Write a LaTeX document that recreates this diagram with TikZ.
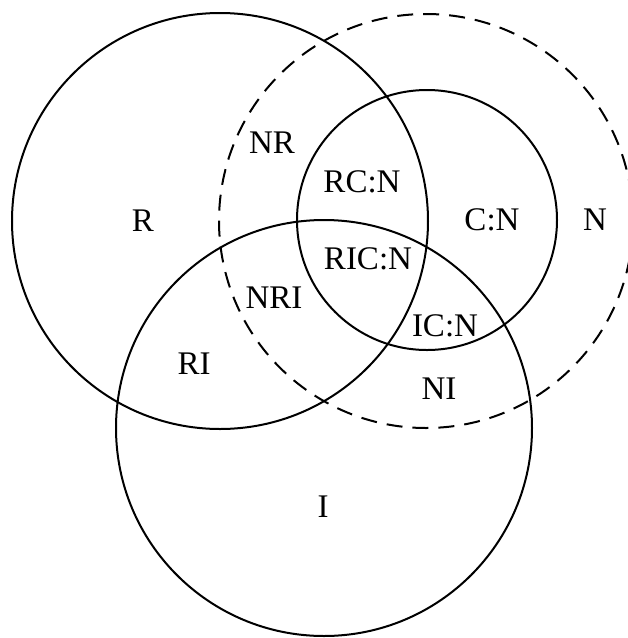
\documentclass[tikz,border=0pt]{standalone}
\usepackage{fontspec}
\setmainfont{Liberation Serif}
\usepackage{tikz}
\usetikzlibrary{positioning}

\begin{document}
\begin{tikzpicture}[
  x=1pt, y=-1pt,
  set/.style={circle, draw, line width=2pt, inner sep=0pt},
  dashedset/.style={set, dash pattern=on 16pt off 10pt},
  lbl/.style={font=\fontsize{33}{39}\selectfont, inner sep=0pt}]
  \useasboundingbox (0,0) rectangle (628,638);
  % the four sets
  \node[set, minimum size=416pt] (R) at (220,221) {};
  \node[dashedset, minimum size=414pt] (N) at (426,221) {};
  \node[set, minimum size=260pt] (C) at (427,220) {};
  \node[set, minimum size=416pt] (I) at (324,428) {};
  % region labels
  \node[lbl] (rR) at (143,221) {R};
  \node[lbl] (rNR) at (272,143) {NR};
  \node[lbl] (rRC) at (362,182) {RC:N};
  \node[lbl] (rC) at (492,220) {C:N};
  \node[lbl] (rN) at (595,220) {N};
  \node[lbl] (rRIC) at (368,259) {RIC:N};
  \node[lbl] (rNRI) at (274,298) {NRI};
  \node[lbl] (rIC) at (445,326) {IC:N};
  \node[lbl] (rRI) at (194,364) {RI};
  \node[lbl] (rNI) at (439,389) {NI};
  \node[lbl] (rI) at (323,507) {I};
\end{tikzpicture}
\end{document}
